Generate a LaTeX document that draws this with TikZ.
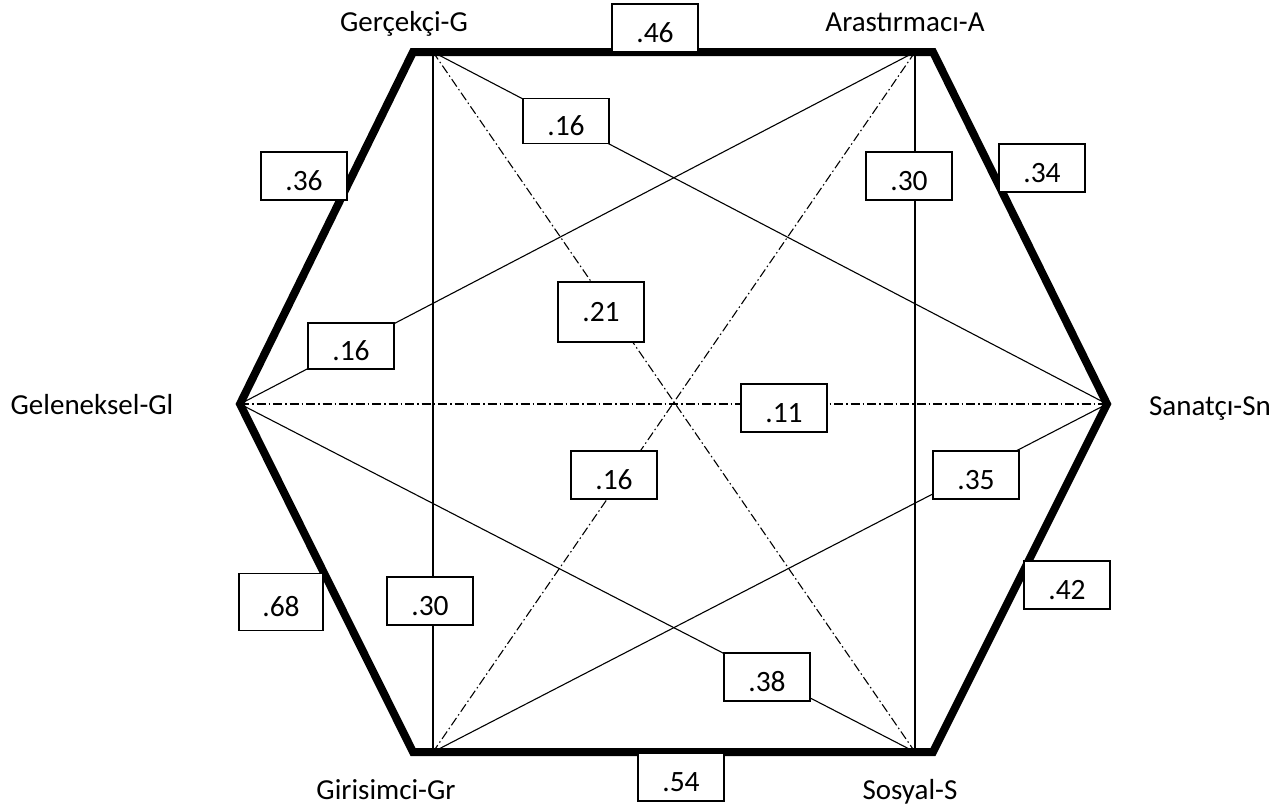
\documentclass[tikz,border=0pt]{standalone}
\usepackage{fontspec}
\setmainfont{Carlito}
\tikzset{
  vlabel/.style={font=\fontsize{29}{34}\selectfont, inner sep=0pt, anchor=base},
  valbox/.style={draw, line width=1.2pt, fill=white, inner sep=0pt,
    minimum width=86pt, minimum height=48pt, text height=28pt, text depth=0pt,
    font=\fontsize{29.5}{34}\selectfont},
  thinline/.style={line width=1.1pt},
  dashdotline/.style={line width=1.1pt, dash pattern=on 9pt off 3pt on 1.5pt off 3pt},
  hexline/.style={line width=8pt, line join=miter}
}
\begin{document}
\begin{tikzpicture}[x=1pt,y=-1pt]
\useasboundingbox (0,0) rectangle (1287,809);
% hexagon corners
\coordinate (TL) at (413,52);
\coordinate (TR) at (933,52);
\coordinate (R)  at (1107,404);
\coordinate (BR) at (933,752);
\coordinate (BL) at (413,752);
\coordinate (L)  at (240,404);
% attachment points
\coordinate (G)  at (433,52);
\coordinate (A)  at (915,52);
\coordinate (Sn) at (1107,404);
\coordinate (S)  at (915,752);
\coordinate (Gr) at (433,752);
\coordinate (Gl) at (240,404);
% solid connectors
\draw[thinline] (G) -- (Gr);
\draw[thinline] (A) -- (S);
\draw[thinline] (G) -- (Sn);
\draw[thinline] (A) -- (Gl);
\draw[thinline] (Gl) -- (S);
\draw[thinline] (Gr) -- (Sn);
% dash-dot connectors
\draw[dashdotline] (G) -- (S);
\draw[dashdotline] (A) -- (Gr);
\draw[dashdotline] (Gl) -- (Sn);
% hexagon
\draw[hexline] (TL) -- (TR) -- (R) -- (BR) -- (BL) -- (L) -- cycle;
% value boxes
\node[valbox] (v46) at (655,28) {.46};
\node[valbox, minimum height=45pt] (v16a) at (566,121) {.16};
\node[valbox] (v30a) at (909,176) {.30};
\node[valbox] (v34) at (1042,168) {.34};
\node[valbox] (v36) at (304,176) {.36};
\node[valbox, minimum height=60pt, text height=19pt] (v21) at (601,312) {.21};
\node[valbox, minimum height=46pt] (v16b) at (351,346) {.16};
\node[valbox] (v11) at (784,408) {.11};
\node[valbox] (v16c) at (614,475) {.16};
\node[valbox] (v35) at (976,475) {.35};
\node[valbox, minimum width=84pt, minimum height=57pt] (v68) at (281,602) {.68};
\node[valbox] (v30b) at (430,601) {.30};
\node[valbox] (v42) at (1067,585) {.42};
\node[valbox] (v38) at (767,677) {.38};
\node[valbox] (v54) at (681,777) {.54};
% vertex labels
\node[vlabel] (tG)  at (404,31) {Gerçekçi-G};
\node[vlabel] (tA)  at (905,31) {Arastırmacı-A};
\node[vlabel] (tGl) at (92,414) {Geleneksel-Gl};
\node[vlabel] (tSn) at (1210,415) {Sanatçı-Sn};
\node[vlabel] (tGr) at (386,799) {Girisimci-Gr};
\node[vlabel] (tS)  at (910,799) {Sosyal-S};
\end{tikzpicture}
\end{document}
